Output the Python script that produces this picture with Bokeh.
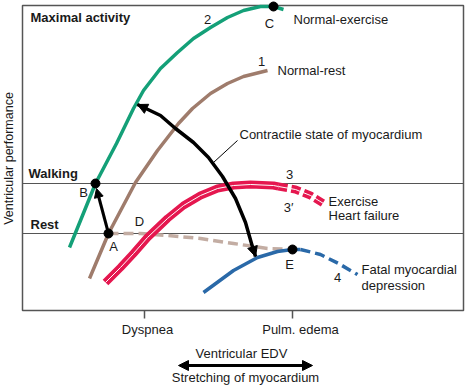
from bokeh.plotting import figure
from bokeh.models import Range1d, Arrow, NormalHead
from bokeh.core.properties import value
from bokeh.embed import file_html
from bokeh.resources import INLINE
import math

# ---- data (x: ventricular EDV, y: ventricular performance; arbitrary units) ----
x_ticks = [122, 270]
x_tick_labels = ["Dyspnea", "Pulm. edema"]
x_lim = [0, 441]
y_lim = [0, 305]
walk_y = 127
rest_y = 77

green_x = [47, 58, 73, 94, 111, 121, 138, 155, 171, 188, 205, 221, 238, 251, 261]
green_y = [63, 90, 127, 167, 202, 220, 242, 258, 272, 283, 293, 300, 304, 304, 301]

brown_x = [67, 86, 113, 135, 156, 170, 188, 205, 221, 245]
brown_y = [32, 77, 128, 160, 187, 202, 217, 227, 234, 240]

red_x = [83, 98, 111, 125, 145, 161, 178, 195, 211, 228, 251, 256]
red_y = [28, 43, 57, 73, 92, 105, 115, 122, 125, 126, 125, 124]
red_dash_x = [256, 273, 288, 301]
red_dash_y = [124, 121, 115, 107]

tan_x = [86, 118, 145, 178, 211, 245, 270]
tan_y = [77, 77, 75, 72, 67, 62, 61]

blue_x = [181, 211, 235, 255, 270, 278]
blue_y = [18, 40, 53, 59, 61, 61]
blue_dash_x = [278, 298, 316, 335]
blue_dash_y = [61, 56, 47, 36]

arc_x = [115, 138, 153, 171, 186, 200, 213, 223, 229, 233]
arc_y = [206, 195, 182, 168, 153, 134, 112, 88, 67, 54]

pt_names = ["A", "B", "C", "E"]
pt_x = [86, 73, 251, 270]
pt_y = [77, 127, 304, 61]

leader_x = [191, 215]
leader_y = [148, 170]

edv_arrow_x = [156, 290]
edv_arrow_y = -55

GREEN = "#14a078"
BROWN = "#9f7c6c"
RED = "#e5174f"
BLUE = "#2a69a8"
TAN = "#c3ada3"
INK = "#1a1a1a"
FRAME = "#555555"
FONT = "Liberation Sans"

p = figure(width=469, height=390,
           x_range=Range1d(-22, 447), y_range=Range1d(-80, 310),
           output_backend="svg", toolbar_location=None,
           x_axis_location=None, y_axis_location=None,
           min_border=0)
p.xgrid.visible = False
p.ygrid.visible = False
p.outline_line_color = None
p.background_fill_color = "white"
p.border_fill_color = "white"

# plot box, level lines, ticks
p.quad(left=x_lim[0], right=x_lim[1], bottom=y_lim[0], top=y_lim[1],
       fill_color=None, line_color=FRAME, line_width=1.5)
p.segment(x0=x_lim[0], x1=x_lim[1], y0=[walk_y, rest_y], y1=[walk_y, rest_y],
          line_color=FRAME, line_width=1.2)
p.segment(x0=x_ticks, x1=x_ticks, y0=y_lim[0], y1=y_lim[0] - 8,
          line_color=FRAME, line_width=1.5)
p.text(x=x_ticks, y=y_lim[0] - 19, text=x_tick_labels, x_offset=[3, 8],
       text_align="center", text_baseline="middle", text_font=value(FONT),
       text_font_size="13px", text_color=INK)

# curves
J = dict(line_join="round")
p.line(green_x, green_y, line_color=GREEN, line_width=3.5, **J)
p.line(brown_x, brown_y, line_color=BROWN, line_width=3.5, **J)
p.line(tan_x, tan_y, line_color=TAN, line_width=3.5, line_dash="10 5", **J)
p.line(red_x, red_y, line_color=RED, line_width=8, **J)
p.line(red_x, red_y, line_color="white", line_width=1, **J)
p.line(red_dash_x, red_dash_y, line_color=RED, line_width=8, line_dash="9 4", **J)
p.line(red_dash_x, red_dash_y, line_color="white", line_width=1, **J)
p.line(blue_x, blue_y, line_color=BLUE, line_width=3.5, **J)
p.line(blue_dash_x, blue_dash_y, line_color=BLUE, line_width=3.5, line_dash="10 5", **J)

# black arc (contractile state) with heads
p.line(arc_x, arc_y, line_color="black", line_width=3.5, **J)
p.add_layout(Arrow(end=NormalHead(size=10, fill_color="black", line_color="black"),
                   x_start=arc_x[1], y_start=arc_y[1], x_end=arc_x[0], y_end=arc_y[0],
                   line_width=0, line_alpha=0))
p.add_layout(Arrow(end=NormalHead(size=10, fill_color="black", line_color="black"),
                   x_start=arc_x[-2], y_start=arc_y[-2], x_end=arc_x[-1], y_end=arc_y[-1],
                   line_width=0, line_alpha=0))

# A -> B arrow
p.add_layout(Arrow(end=NormalHead(size=9, fill_color="black", line_color="black"),
                   x_start=pt_x[0], y_start=pt_y[0], x_end=pt_x[1] + 1, y_end=pt_y[1] - 5,
                   line_width=3, line_color="black"))

# leader line
p.line(leader_x, leader_y, line_color="black", line_width=1)

p.scatter(pt_x, pt_y, size=9, color="black")

def lab(x, y, t, align="left", bold=False, size="13px", angle=0.0):
    p.text(x=[x], y=[y], text=[t], text_align=align, text_baseline="middle",
           text_font=value(FONT), text_font_size=size, text_color=INK,
           text_font_style="bold" if bold else "normal", angle=angle)

lab(8, 293, "Maximal activity", bold=True)
lab(6, 137, "Walking", bold=True)
lab(8, 86, "Rest", bold=True)
lab(185, 291, "2", "center")
lab(247, 287, "C", "center")
lab(271, 291, "Normal-exercise")
lab(239, 249, "1", "center")
lab(255, 240, "Normal-rest")
lab(217, 176, "Contractile state of myocardium")
lab(267, 136, "3", "center")
lab(266, 103, "3\u2032", "center")
lab(306, 109, "Exercise")
lab(306, 95, "Heart failure")
lab(267, 46, "E", "center")
lab(315, 33, "4", "center")
lab(339, 41, "Fatal myocardial")
lab(339, 25, "depression")
lab(61, 118, "B", "center")
lab(91, 64, "A", "center")
lab(117, 89, "D", "center")
lab(219, -43, "Ventricular EDV", "center")
lab(223, -67, "Stretching of myocardium", "center")
lab(-14, 152, "Ventricular performance", "center", size="12.5px", angle=math.pi / 2)

p.add_layout(Arrow(start=NormalHead(size=10, fill_color="black", line_color="black"),
                   end=NormalHead(size=10, fill_color="black", line_color="black"),
                   x_start=edv_arrow_x[0], y_start=edv_arrow_y,
                   x_end=edv_arrow_x[1], y_end=edv_arrow_y,
                   line_width=3, line_color="black"))

open("out.html", "w").write(file_html(p, INLINE))
